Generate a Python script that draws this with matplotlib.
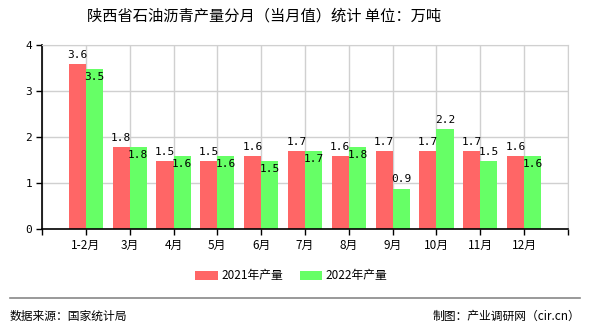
import numpy as np
import matplotlib
matplotlib.use("Agg")
import matplotlib.pyplot as plt

plt.rcParams['font.family'] = ['Noto Sans CJK SC', 'DejaVu Sans']

months = ['1-2月', '3月', '4月', '5月', '6月', '7月', '8月', '9月', '10月', '11月', '12月']
out_2021 = [3.59, 1.78, 1.48, 1.48, 1.59, 1.70, 1.59, 1.70, 1.70, 1.70, 1.59]
out_2022 = [3.47, 1.78, 1.59, 1.59, 1.48, 1.70, 1.78, 0.88, 2.17, 1.48, 1.59]

RED = '#ff6666'
GREEN = '#66ff66'
W = 0.39

fig = plt.figure(figsize=(5.9, 3.3), dpi=100)
ax = fig.add_axes([0.0712, 0.306, 0.8915, 0.558])

x = np.arange(len(months))
ax.bar(x - W / 2, out_2021, W, color=RED, label='2021年产量', zorder=2)
ax.bar(x + W / 2, out_2022, W, color=GREEN, label='2022年产量', zorder=2)

# value labels: red always above, green goes inside if it would hit the red one
for i in range(len(months)):
    a, b = out_2021[i], out_2022[i]
    ax.annotate('%.1f' % a, (x[i] - W / 2, a), xytext=(0, 3), textcoords='offset points',
                ha='center', va='bottom', fontsize=8, family='DejaVu Sans Mono', zorder=3)
    if abs(a - b) < 0.21:
        ax.annotate('%.1f' % b, (x[i] + W / 2, b), xytext=(0, -2), textcoords='offset points',
                    ha='center', va='top', fontsize=8, family='DejaVu Sans Mono', zorder=3)
    else:
        ax.annotate('%.1f' % b, (x[i] + W / 2, b), xytext=(0, 3), textcoords='offset points',
                    ha='center', va='bottom', fontsize=8, family='DejaVu Sans Mono', zorder=3)

ax.set_xlim(-1, len(months))
ax.set_ylim(0, 4)
ax.set_yticks([0, 1, 2, 3, 4])
ax.set_yticklabels(['0', '1', '2', '3', '4'], family='DejaVu Sans Mono', fontsize=8)
ax.set_xticks(np.arange(-1, len(months) + 1))
ax.set_xticklabels([''] + months + [''], fontsize=8.5)
ax.tick_params(axis='both', length=4, width=1, color='black', pad=3)
ax.grid(True, color='#d0d0d0', linewidth=1, zorder=0)
ax.set_axisbelow(True)
for s in ['top', 'right']:
    ax.spines[s].set_color('#d0d0d0')
for s in ['left', 'bottom']:
    ax.spines[s].set_color('black')
    ax.spines[s].set_linewidth(1.2)

fig.text(0.447, 0.952, '陕西省石油沥青产量分月（当月值）统计 单位：万吨', ha='center', va='center', fontsize=11)

fig.legend(loc='center', bbox_to_anchor=(0.494, 0.164), ncol=2, frameon=False, fontsize=8.5,
           handlelength=1.9, handleheight=0.8, columnspacing=1.4, handletextpad=0.3)

fig.add_artist(plt.Line2D([0.017, 0.983], [0.097, 0.097], color='#888888', linewidth=1.2))
fig.text(0.017, 0.042, '数据来源：国家统计局', ha='left', va='center', fontsize=8.5)
fig.text(0.983, 0.042, '制图：产业调研网（cir.cn）', ha='right', va='center', fontsize=8.5)

fig.savefig('out.png', dpi=100)
